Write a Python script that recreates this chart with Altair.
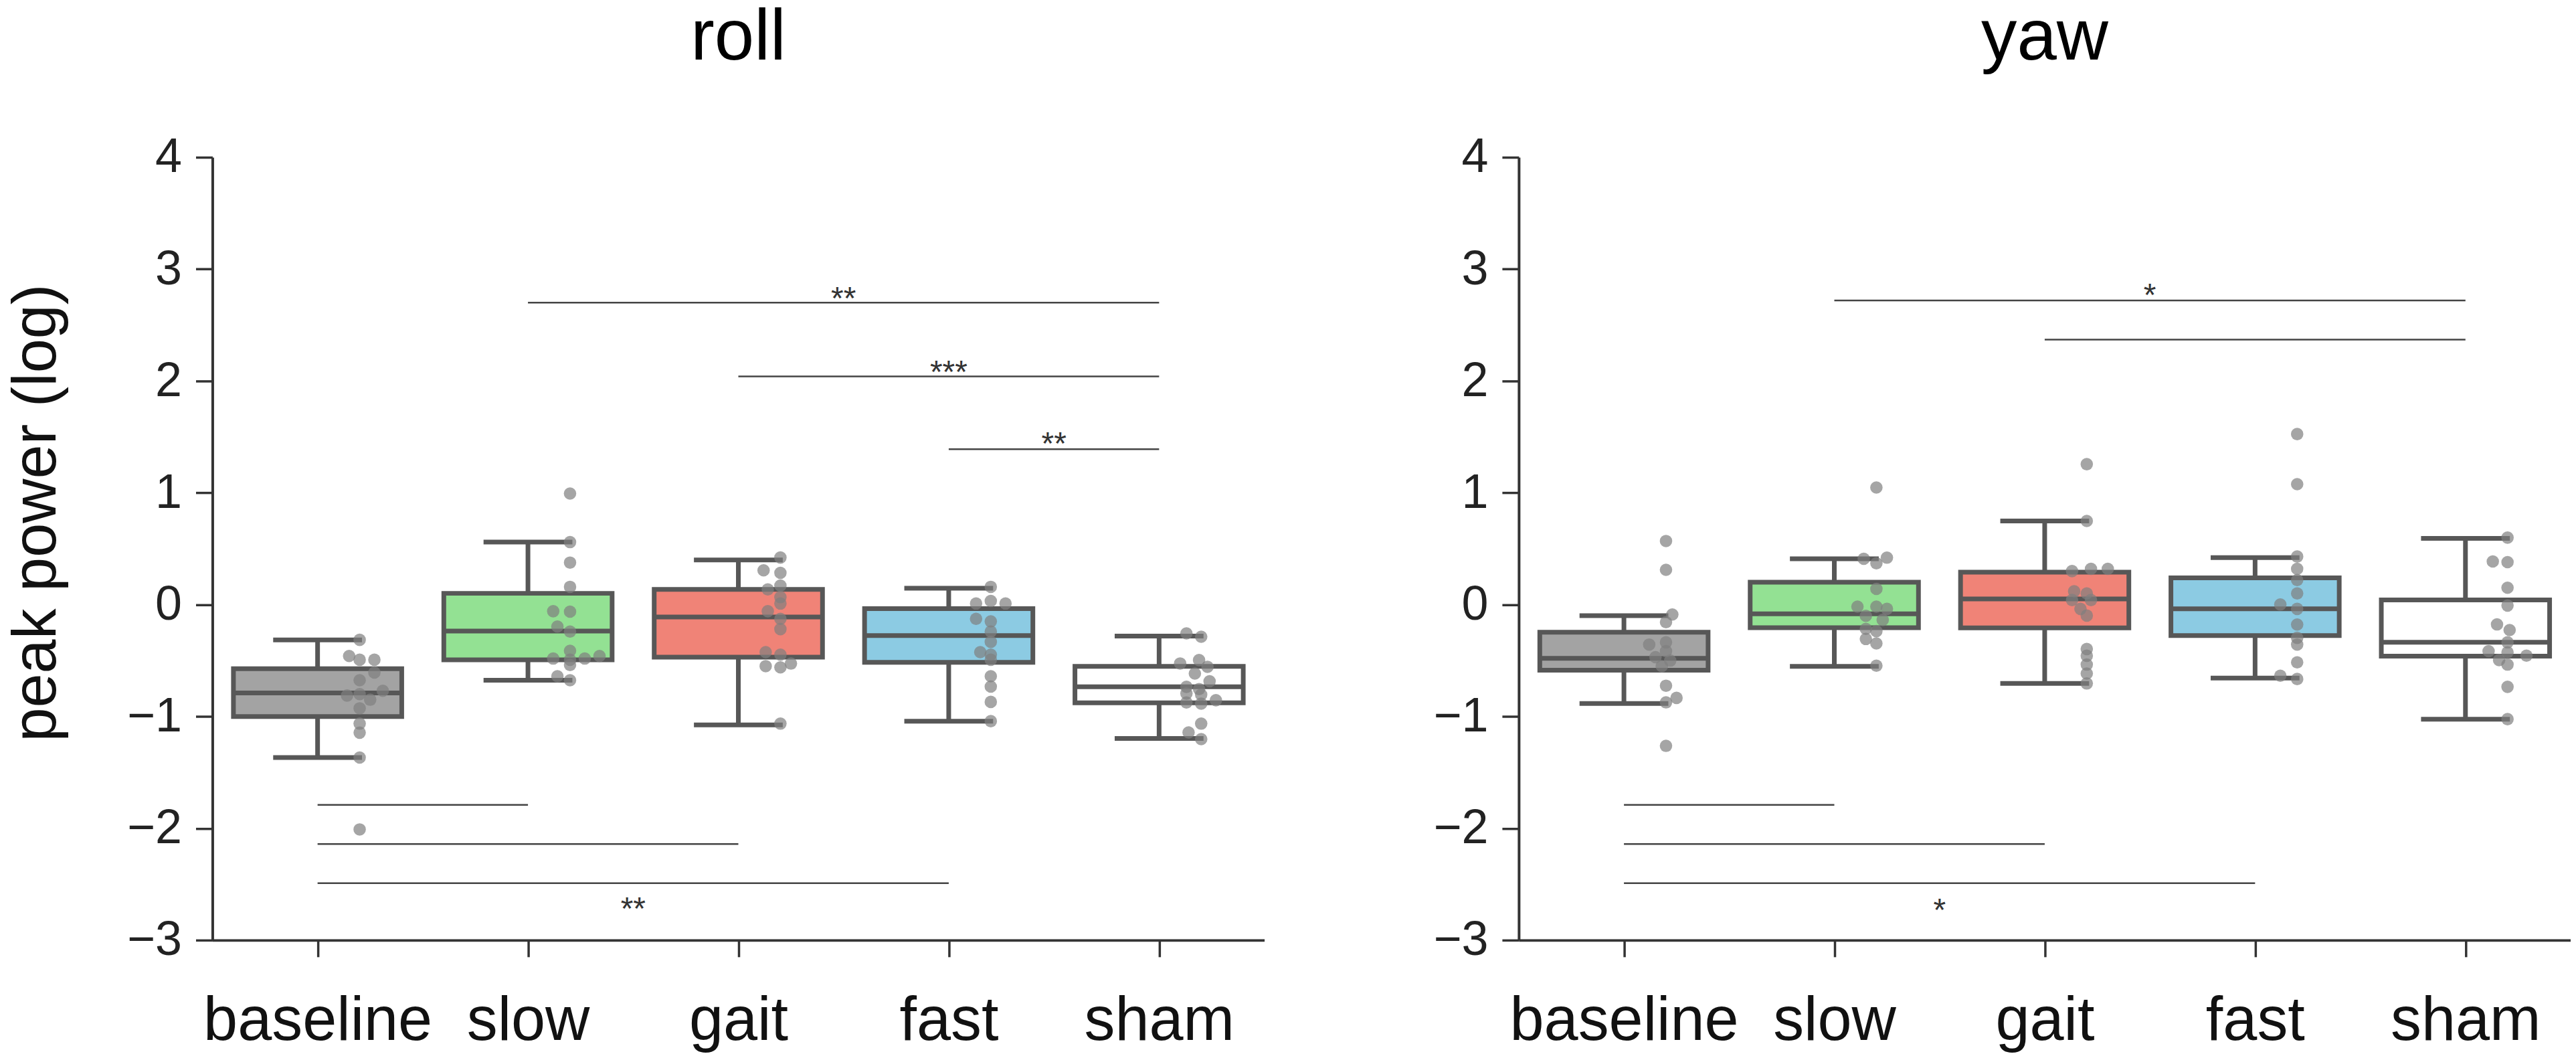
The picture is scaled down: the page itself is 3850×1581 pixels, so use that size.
import altair as alt
import pandas as pd

FONT = "Liberation Sans"

groups = ["baseline", "slow", "gait", "fast", "sham"]
box_colors = ["#a3a3a3", "#93e193", "#f08377", "#8ccbe3", "#ffffff"]

# ---- box statistics (whisker low, q1, median, q3, whisker high) ----
roll_low = [-1.367, -0.676, -1.076, -1.042, -1.197]
roll_q1 = [-1.000, -0.493, -0.470, -0.516, -0.878]
roll_med = [-0.790, -0.237, -0.111, -0.276, -0.735]
roll_q3 = [-0.573, 0.101, 0.136, -0.036, -0.552]
roll_high = [-0.315, 0.559, 0.399, 0.147, -0.281]

yaw_low = [-0.884, -0.552, -0.705, -0.656, -1.024]
yaw_q1 = [-0.586, -0.207, -0.208, -0.277, -0.460]
yaw_med = [-0.480, -0.082, 0.051, -0.038, -0.337]
yaw_q3 = [-0.247, 0.201, 0.290, 0.240, 0.042]
yaw_high = [-0.098, 0.410, 0.748, 0.420, 0.593]

# ---- individual observations (value, strip jitter in category units) ----
roll_points = {
    "baseline": [-0.315, -0.459, -0.493, -0.493, -0.607, -0.676, -0.770, -0.800,
                 -0.813, -0.850, -0.927, -1.064, -1.145, -1.367, -2.010],
    "slow": [0.993, 0.559, 0.376, 0.159, -0.059, -0.063, -0.196, -0.241, -0.413,
             -0.482, -0.493, -0.482, -0.459, -0.540, -0.640, -0.676],
    "gait": [0.421, 0.307, 0.284, 0.170, 0.136, 0.067, 0.010, -0.059, -0.127,
             -0.219, -0.425, -0.447, -0.550, -0.561, -0.527, -1.064],
    "fast": [0.159, 0.010, 0.033, 0.010, -0.127, -0.150, -0.241, -0.333, -0.425,
             -0.447, -0.493, -0.640, -0.733, -0.870, -1.042],
    "sham": [-0.257, -0.287, -0.526, -0.496, -0.556, -0.616, -0.685, -0.735, -0.755,
             -0.795, -0.805, -0.875, -0.885, -0.855, -1.064, -1.143, -1.203],
}
roll_jitter = {
    "baseline": [0.20, 0.15, 0.20, 0.27, 0.27, 0.20, 0.31, 0.20, 0.14, 0.25, 0.20, 0.20, 0.20, 0.20, 0.20],
    "slow": [0.20, 0.20, 0.20, 0.20, 0.12, 0.20, 0.14, 0.20, 0.20, 0.12, 0.20, 0.27, 0.34, 0.20, 0.14, 0.20],
    "gait": [0.20, 0.12, 0.20, 0.20, 0.14, 0.20, 0.20, 0.14, 0.20, 0.20, 0.13, 0.20, 0.13, 0.20, 0.25, 0.20],
    "fast": [0.20, 0.13, 0.20, 0.27, 0.13, 0.20, 0.20, 0.20, 0.15, 0.20, 0.20, 0.20, 0.20, 0.20, 0.20],
    "sham": [0.13, 0.20, 0.10, 0.19, 0.23, 0.17, 0.24, 0.13, 0.19, 0.13, 0.20, 0.13, 0.20, 0.27, 0.20, 0.14, 0.20],
}
yaw_points = {
    "baseline": [0.569, 0.311, -0.088, -0.157, -0.337, -0.357, -0.416, -0.470,
                 -0.500, -0.550, -0.725, -0.834, -0.874, -1.263],
    "slow": [1.047, 0.410, 0.370, 0.420, 0.141, -0.018, -0.018, -0.038, -0.100,
             -0.137, -0.217, -0.237, -0.307, -0.347, -0.546],
    "gait": [1.256, 0.748, 0.300, 0.320, 0.320, 0.120, 0.100, 0.041, 0.041,
             -0.038, -0.098, -0.397, -0.457, -0.536, -0.616, -0.705],
    "fast": [1.525, 1.077, 0.430, 0.320, 0.220, 0.100, 0.001, -0.038, -0.178,
             -0.297, -0.357, -0.516, -0.636, -0.665],
    "sham": [0.599, 0.386, 0.380, 0.151, -0.008, -0.177, -0.227, -0.337, -0.416,
             -0.426, -0.496, -0.456, -0.536, -0.735, -1.024],
}
yaw_jitter = {
    "baseline": [0.20, 0.20, 0.23, 0.20, 0.20, 0.12, 0.20, 0.15, 0.22, 0.18, 0.20, 0.25, 0.20, 0.20],
    "slow": [0.20, 0.14, 0.20, 0.25, 0.20, 0.11, 0.20, 0.25, 0.15, 0.23, 0.15, 0.20, 0.15, 0.20, 0.20],
    "gait": [0.20, 0.20, 0.13, 0.22, 0.30, 0.14, 0.20, 0.13, 0.22, 0.17, 0.20, 0.20, 0.20, 0.20, 0.20, 0.20],
    "fast": [0.20, 0.20, 0.20, 0.20, 0.20, 0.20, 0.12, 0.20, 0.20, 0.20, 0.20, 0.20, 0.12, 0.20],
    "sham": [0.20, 0.13, 0.20, 0.20, 0.20, 0.15, 0.21, 0.20, 0.11, 0.20, 0.16, 0.29, 0.20, 0.20, 0.20],
}

# ---- significance brackets: (from group index, to group index, level) ----
roll_brackets = [(1, 4, 2.70), (2, 4, 2.04), (3, 4, 1.39), (0, 1, -1.79), (0, 2, -2.14), (0, 3, -2.49)]
roll_stars = [(2.5, 2.80, "**"), (3.0, 2.14, "***"), (3.5, 1.50, "**"), (1.5, -2.66, "**")]
yaw_brackets = [(1, 4, 2.72), (2, 4, 2.37), (0, 1, -1.79), (0, 2, -2.14), (0, 3, -2.49)]
yaw_stars = [(2.5, 2.83, "*"), (1.5, -2.67, "*")]

EDGE = "#575757"
PLOT_W = 1575
PLOT_H = 1172


def panel(title, low, q1, med, q3, high, points, jitter, brackets, stars, ytitle):
    box_df = pd.DataFrame({"group": groups, "idx": list(range(5)), "low": low, "q1": q1,
                           "med": med, "q3": q3, "high": high})
    prow = []
    for i, g in enumerate(groups):
        for v, j in zip(points[g], jitter[g]):
            prow.append({"group": g, "idx": i, "val": v, "jit": j})
    pts_df = pd.DataFrame(prow)
    br_df = pd.DataFrame(brackets, columns=["a", "b", "level"])
    st_df = pd.DataFrame(stars, columns=["pos", "ty", "label"])

    xs = alt.Scale(domain=[-0.5, 4.5], nice=False, zero=False)
    ys = alt.Scale(domain=[-3, 4], nice=False, zero=False)
    label_expr = "['baseline','slow','gait','fast','sham'][datum.value]"
    xaxis = alt.Axis(values=[0, 1, 2, 3, 4], labelExpr=label_expr, title=None, grid=False,
                     domainColor="#333333", domainWidth=4, tickColor="#333333", tickWidth=3.5,
                     tickSize=25, labelFont=FONT, labelFontSize=92, labelColor="#111111",
                     labelPadding=51, labelAngle=0, labelLimit=0, labelOverlap=False)
    yaxis = alt.Axis(values=[-3, -2, -1, 0, 1, 2, 3, 4], format="d", grid=False,
                     domainColor="#333333", domainWidth=4, tickColor="#333333", tickWidth=3.5,
                     tickSize=25, labelFont=FONT, labelFontSize=72, labelColor="#222222",
                     labelPadding=21, labelLimit=0, title=ytitle if ytitle else None, titleFont=FONT,
                     titleFontSize=92, titleFontWeight="normal", titleColor="#111111",
                     titlePadding=88, titleLimit=0, titleY=532)

    base = alt.Chart(box_df).transform_calculate(
        bl="datum.idx - 0.4", br="datum.idx + 0.4", cl="datum.idx - 0.2", cr="datum.idx + 0.2")

    whisk_lo = base.mark_rule(color=EDGE, strokeWidth=7).encode(
        x=alt.X("idx:Q", scale=xs, axis=xaxis), y=alt.Y("low:Q", scale=ys, axis=yaxis), y2="q1:Q")
    whisk_hi = base.mark_rule(color=EDGE, strokeWidth=7).encode(
        x=alt.X("idx:Q", scale=xs), y=alt.Y("q3:Q", scale=ys), y2="high:Q")
    box = base.mark_bar(stroke=EDGE, strokeWidth=7).encode(
        x=alt.X("bl:Q", scale=xs), x2="br:Q", y=alt.Y("q1:Q", scale=ys), y2="q3:Q",
        fill=alt.Fill("group:N", scale=alt.Scale(domain=groups, range=box_colors), legend=None))
    median = base.mark_rule(color=EDGE, strokeWidth=7).encode(
        x=alt.X("bl:Q", scale=xs), x2="br:Q", y=alt.Y("med:Q", scale=ys))
    cap_lo = base.mark_rule(color=EDGE, strokeWidth=7, strokeCap="square").encode(
        x=alt.X("cl:Q", scale=xs), x2="cr:Q", y=alt.Y("low:Q", scale=ys))
    cap_hi = base.mark_rule(color=EDGE, strokeWidth=7, strokeCap="square").encode(
        x=alt.X("cl:Q", scale=xs), x2="cr:Q", y=alt.Y("high:Q", scale=ys))

    pts = alt.Chart(pts_df).transform_calculate(px="datum.idx + datum.jit").mark_circle(
        size=346, color="#7f7f7f", opacity=0.7).encode(
        x=alt.X("px:Q", scale=xs), y=alt.Y("val:Q", scale=ys))

    br = alt.Chart(br_df).mark_rule(color="#444444", strokeWidth=2.5).encode(
        x=alt.X("a:Q", scale=xs), x2="b:Q", y=alt.Y("level:Q", scale=ys))
    st = alt.Chart(st_df).mark_text(font=FONT, fontSize=48, color="#333333", dy=12,
                                     baseline="middle", align="center").encode(
        x=alt.X("pos:Q", scale=xs), y=alt.Y("ty:Q", scale=ys), text="label:N")

    return alt.layer(whisk_lo, whisk_hi, box, median, cap_lo, cap_hi, pts, br, st).properties(
        width=PLOT_W, height=PLOT_H,
        title=alt.Title(title, font=FONT, fontSize=107, fontWeight="normal", color="#000000",
                        anchor="middle", offset=88))


left = panel("roll", roll_low, roll_q1, roll_med, roll_q3, roll_high,
             roll_points, roll_jitter, roll_brackets, roll_stars, "peak power (log)")
right = panel("yaw", yaw_low, yaw_q1, yaw_med, yaw_q3, yaw_high,
              yaw_points, yaw_jitter, yaw_brackets, yaw_stars, None)

chart = alt.hconcat(left, right, spacing=252).properties(
    padding={"left": 0, "top": -6, "right": 0, "bottom": 0},
    background="white").configure_view(stroke=None)

chart.save("out.html", embed_options={"renderer": "svg", "actions": False})
